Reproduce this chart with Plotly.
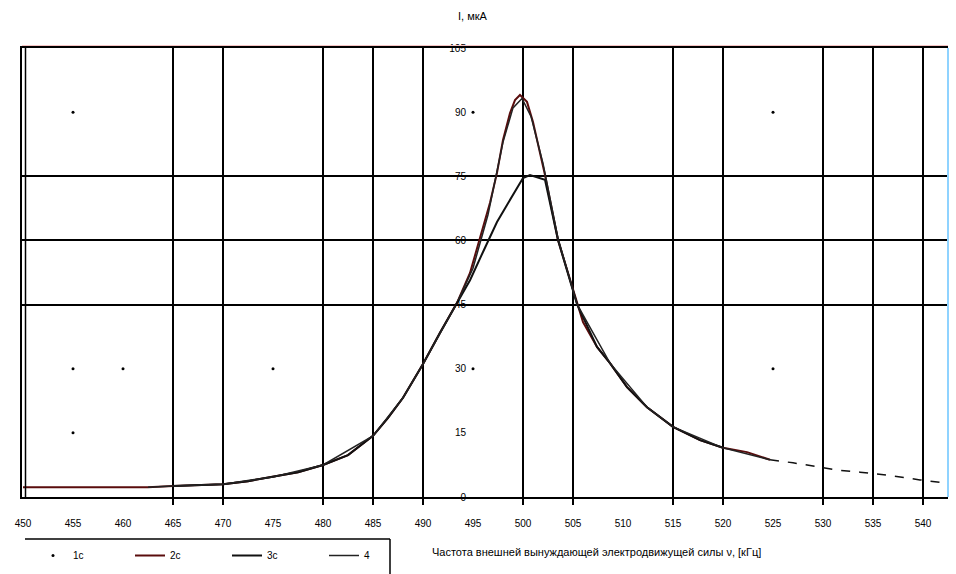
import plotly.graph_objects as go

# ---- data ----
x_ticks = [450, 455, 460, 465, 470, 475, 480, 485, 490, 495, 500,
           505, 510, 515, 520, 525, 530, 535, 540]
x_grid = [465, 470, 480, 485, 490, 500, 505, 515, 520, 530, 535, 540]
y_ticks = [0, 15, 30, 45, 60, 75, 90, 105]
y_grid = [45, 60, 75, 105]

s1_name = "1с"
s1_x = [455, 455, 455, 460, 475, 495, 495, 525, 525]
s1_y = [90, 30, 15, 30, 30, 90, 30, 90, 30]

s2_name = "2с"
s2_x = [450, 462.5, 465, 470, 472.5, 475, 477.5, 480, 482.5, 485, 486.5, 488,
        490, 491.7, 493.4, 494.7, 495.7, 496.7, 497.4, 498, 498.7, 499.2,
        499.7, 500.4, 501, 502.2, 503.5, 505.4, 506, 507.4, 508.7, 510.4,
        512.4, 515, 517.7, 520, 522.4, 524.7]
s2_y = [2.3, 2.3, 2.6, 3.0, 3.7, 4.7, 5.8, 7.5, 9.8, 14.3, 18.5, 23.2,
        31.1, 38.4, 45.4, 52.4, 60.8, 68.8, 75.8, 83.5, 89.8, 92.8,
        94.0, 92.4, 87.7, 75.3, 60.1, 45.1, 40.9, 35.1, 31.3, 25.7,
        21.0, 16.4, 13.3, 11.5, 10.5, 8.7]

s3_name = "3с"
s3_x = [465, 470, 472.5, 475, 477.5, 480, 482.5, 485, 486.5, 488, 490, 491.7,
        493.4, 494.7, 496, 497.4, 498.4, 499.2, 500, 500.7, 501.5, 502.2,
        503.5, 505.4, 507.4, 508.7, 510.4, 512.4, 515, 517.7, 520]
s3_y = [2.6, 3.0, 3.7, 4.7, 5.8, 7.5, 9.8, 14.3, 18.5, 23.2, 31.1, 38.4,
        45.4, 50.7, 57.3, 64.3, 68.3, 71.3, 74.6, 75.3, 74.8, 74.2,
        60.1, 45.1, 35.1, 31.3, 25.7, 21.0, 16.4, 13.3, 11.5]

s4_name = "4"
s4_x = [462.5, 465, 470, 475, 480, 485, 488, 490, 493.4, 495, 496.5, 498,
        499, 499.9, 500.8, 502, 503.5, 505.4, 508.7, 512.4, 515, 520, 524.7]
s4_y = [2.3, 2.6, 3.0, 4.7, 7.5, 14.3, 23.2, 31.1, 45.4, 53.5, 66.0, 83.0,
        91.0, 93.2, 89.0, 78.0, 60.5, 45.1, 31.3, 21.0, 16.4, 11.5, 8.7]
s4_tail_x = [524.7, 527, 529.7, 531.4, 533.7, 536.4, 539.7, 542.2]
s4_tail_y = [8.7, 8.0, 7.0, 6.3, 5.8, 5.1, 4.0, 3.3]

y_title = "I, мкА"
x_title = "Частота внешней вынуждающей электродвижущей силы ν, [кГц]"

# ---- geometry ----
W, H = 956, 574
L, R, T, B = 22, 8, 48, 77
PW, PH = W - L - R, H - T - B
def px_x(p):
    return (p - L) / PW
def px_y(p):
    return (H - B - p) / PH

x_range = [449.9, 542.5]
y_range = [0, 105]
font = dict(family="Liberation Sans, Arial, sans-serif", size=10, color="black")

fig = go.Figure()
fig.add_trace(go.Scatter(x=s1_x, y=s1_y, mode="markers", name=s1_name,
                         marker=dict(color="black", size=3),
                         xaxis="x2", yaxis="y2"))
fig.add_trace(go.Scatter(x=s2_x, y=s2_y, mode="lines", name=s2_name,
                         line=dict(color="#5a0d0d", width=2)))
fig.add_trace(go.Scatter(x=s3_x, y=s3_y, mode="lines", name=s3_name,
                         line=dict(color="#111111", width=2)))
fig.add_trace(go.Scatter(x=s4_x, y=s4_y, mode="lines", name=s4_name,
                         line=dict(color="#222222", width=1.5)))
fig.add_trace(go.Scatter(x=s4_tail_x, y=s4_tail_y, mode="lines", showlegend=False,
                         line=dict(color="#111111", width=1.5, dash="dash")))

fig.update_layout(
    width=W, height=H,
    margin=dict(l=L, r=R, t=T, b=B, autoexpand=False),
    paper_bgcolor="white", plot_bgcolor="white",
    font=font,
    xaxis=dict(range=x_range, tickvals=x_ticks, showgrid=False, zeroline=False,
               showline=False, ticks="outside", ticklen=17, automargin=False,
               tickcolor="rgba(0,0,0,0)", tickfont=font),
    xaxis2=dict(range=x_range, overlaying="x", anchor="y2", side="bottom",
                tickvals=x_grid, showgrid=True, gridcolor="black", gridwidth=2,
                showticklabels=False, ticks="outside", ticklen=6, automargin=False,
                tickcolor="black", tickwidth=2, zeroline=False,
                showline=True, linecolor="black", linewidth=2, mirror=True),
    yaxis=dict(range=y_range, tickvals=y_grid, showgrid=True, gridcolor="black",
               gridwidth=2, showticklabels=False, zeroline=False, automargin=False,
               showline=True, linecolor="black", linewidth=2),
    yaxis2=dict(range=y_range, overlaying="y", anchor="free", position=px_x(466),
                tickvals=y_ticks, showgrid=False, zeroline=False, showline=False,
                automargin=False, ticks="", tickfont=font),
    showlegend=True,
    legend=dict(orientation="h", x=px_x(33), y=px_y(541), xanchor="left",
                yanchor="top", font=font, entrywidth=52, entrywidthmode="pixels",
                bgcolor="rgba(0,0,0,0)", borderwidth=0, tracegroupgap=0),
    shapes=[
        dict(type="line", xref="paper", yref="paper", x0=0, x1=1,
             y0=px_y(45.5), y1=px_y(45.5), line=dict(color="#f6c4c4", width=1)),
        dict(type="line", xref="paper", yref="paper", x0=1, x1=1,
             y0=0, y1=1, line=dict(color="#8fd3ff", width=2)),
        dict(type="line", xref="paper", yref="paper", x0=px_x(25.5), x1=px_x(25.5),
             y0=0, y1=1, line=dict(color="black", width=1.5)),
        dict(type="line", xref="paper", yref="paper", x0=px_x(25), x1=px_x(390),
             y0=px_y(539), y1=px_y(539), line=dict(color="black", width=1.5)),
        dict(type="line", xref="paper", yref="paper", x0=px_x(390), x1=px_x(390),
             y0=px_y(539), y1=px_y(574), line=dict(color="black", width=1.5)),
    ],
    annotations=[
        dict(text=y_title, xref="paper", yref="paper", x=px_x(456), y=px_y(16),
             xanchor="left", yanchor="middle", showarrow=False,
             font=dict(family=font["family"], size=11, color="black")),
        dict(text=x_title, xref="paper", yref="paper", x=px_x(430), y=px_y(552),
             xanchor="left", yanchor="middle", showarrow=False,
             font=dict(family=font["family"], size=11, color="black")),
    ],
)

fig.write_html("out.html")
